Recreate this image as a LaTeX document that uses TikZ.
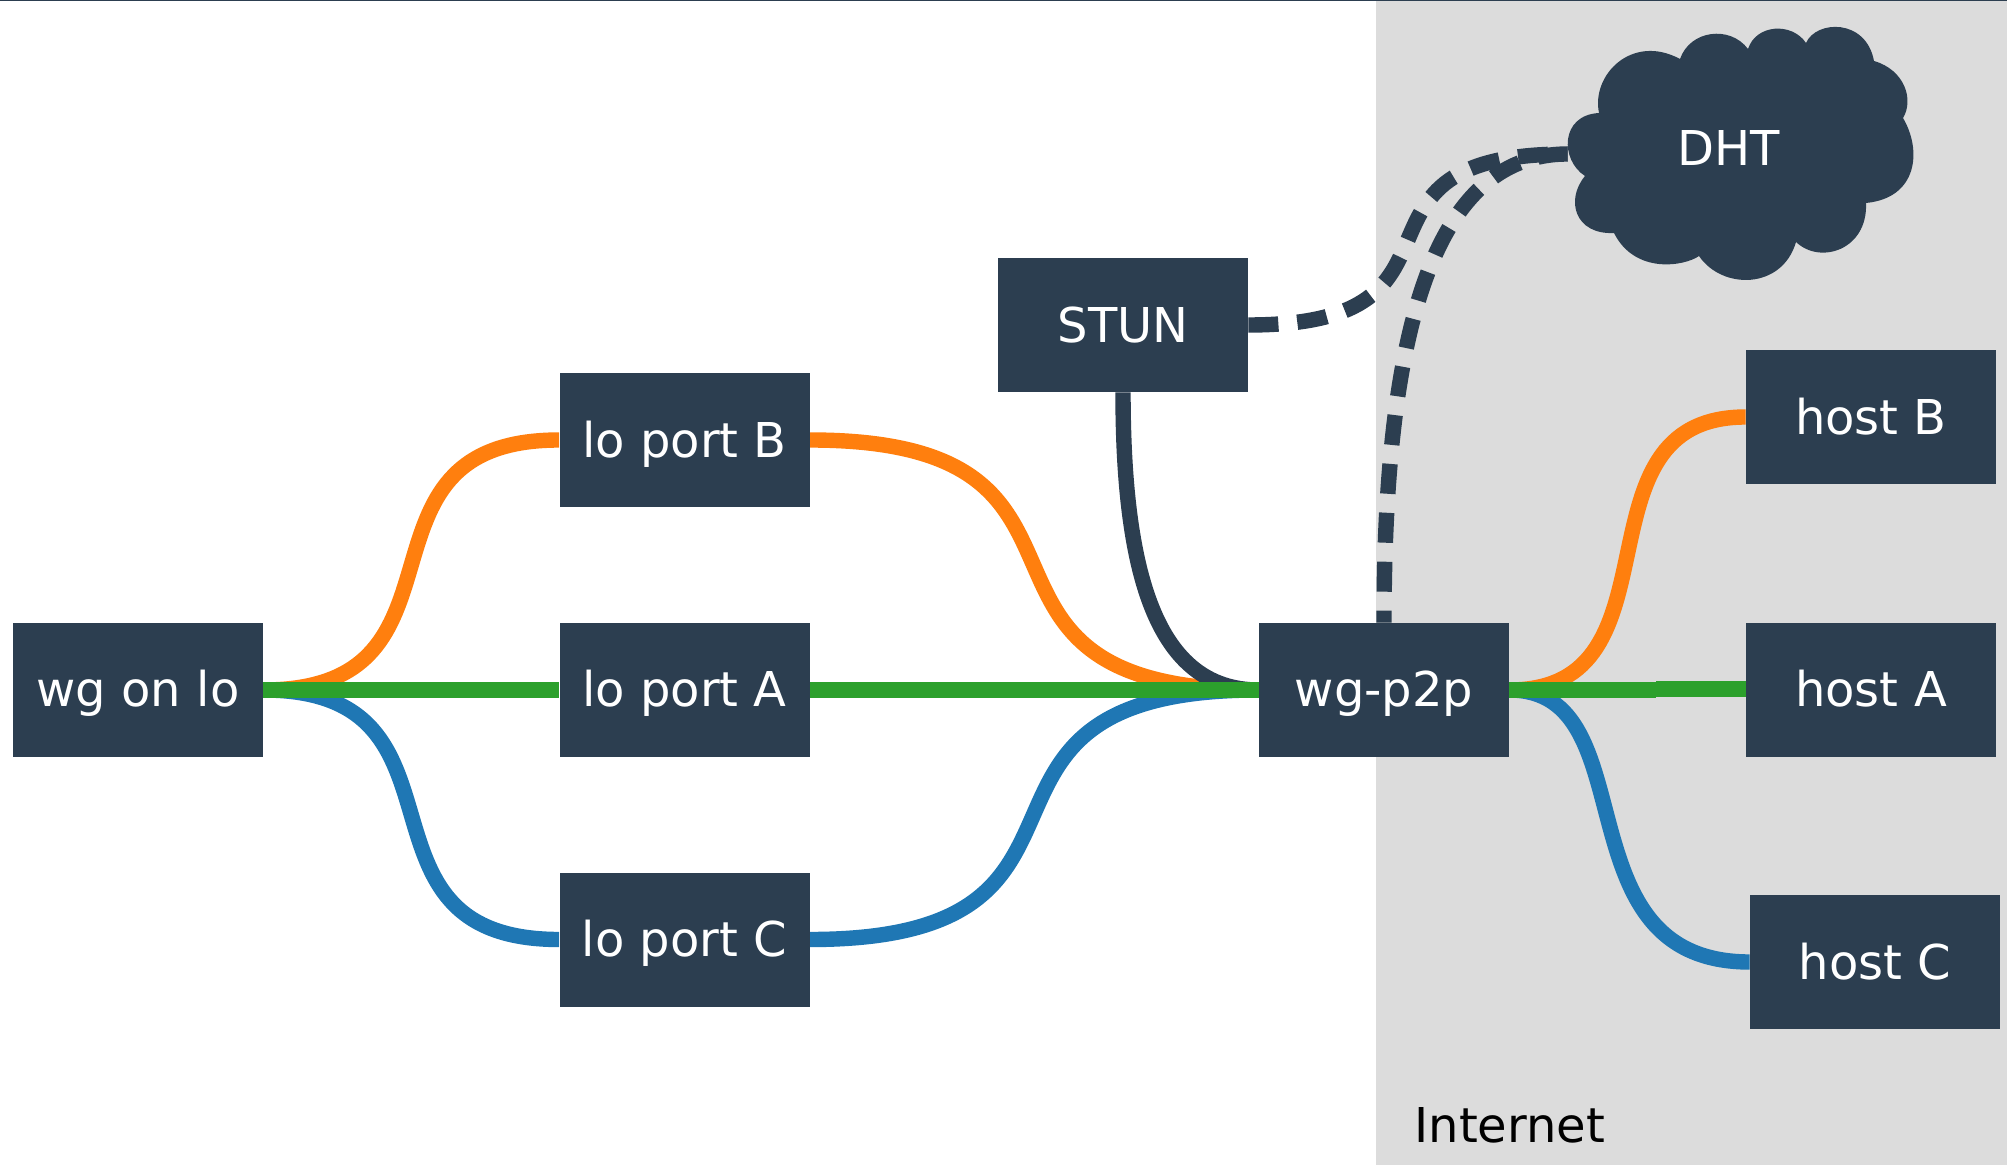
\documentclass[tikz,border=0pt]{standalone}
\usepackage{fontspec}
\setmainfont{DejaVu Sans}
\usetikzlibrary{backgrounds, calc}
\definecolor{boxdark}{HTML}{2C3E50}
\definecolor{netgray}{HTML}{DCDCDC}
\definecolor{lineorange}{HTML}{FF7F0E}
\definecolor{linegreen}{HTML}{2CA02C}
\definecolor{lineblue}{HTML}{1F77B4}
\tikzset{
	labeltext/.style={font=\fontsize{24}{28}\selectfont},
	box/.style={labeltext, fill=boxdark, text=white, minimum width=125pt, minimum height=67pt, inner sep=0pt, text height=17.2pt, text depth=0pt},
	midbox/.style={box, text height=16pt},
	link/.style={line width=7.7pt},
	dashlink/.style={link, boxdark, dash pattern=on 15pt off 9.5pt},
}
\begin{document}
\begin{tikzpicture}[x=0.5pt,y=-0.5pt]
		\useasboundingbox (0,0) rectangle (2007,1165);
		%
		%
		\node[midbox] (wglo) at (138,690) {wg on lo};
		\node[box] (portb) at (684.5,440) {lo port B};
		\node[midbox] (porta) at (684.5,690) {lo port A};
		\node[box] (portc) at (684.5,939.5) {lo port C};
		\node[box] (stun) at (1123,325) {STUN};
		\node[midbox] (wgp) at (1384,690) {wg-p2p};
		\node[box] (hostb) at (1871,417) {host B};
		\node[midbox] (hosta) at (1871,690) {host A};
		\node[box] (hostc) at (1875,962) {host C};
		\coordinate (greenstep) at (1656,690);
		\node[labeltext, anchor=base west, inner sep=0pt] (internet) at (1414,1142) {Internet};
		%
		%
		\fill[boxdark] (1599,113) .. controls (1591,75) and (1632,33) .. (1680,59)
		.. controls (1690,30) and (1730,25) .. (1748,49)
		.. controls (1756,24) and (1792,22) .. (1806,43)
		.. controls (1816,20) and (1866,18) .. (1874,61)
		.. controls (1905,70) and (1914,100) .. (1903,118)
		.. controls (1922,150) and (1918,198) .. (1866,203)
		.. controls (1868,250) and (1820,265) .. (1796,242)
		.. controls (1782,290) and (1722,290) .. (1699,256)
		.. controls (1685,266) and (1635,275) .. (1614,233)
		.. controls (1575,235) and (1565,200) .. (1585,176)
		.. controls (1560,160) and (1560,115) .. (1599,113) -- cycle;
		\node[labeltext, text=white, minimum width=161pt, inner sep=0pt, text height=16pt, text depth=4pt] (dht) at (1729,154) {DHT};
		%
		%
		\begin{pgfonlayer}{background}
		\fill[netgray] (1376,1.5) rectangle (2007,1165);
		\fill[boxdark] (0,0) rectangle (2007,1.5);
		\draw[link, lineorange] (wglo.east) .. controls +(222,0) and +(-222,0) .. (portb.west);
		\draw[link, lineorange] (portb.east) .. controls +(338,0) and +(-340,0) .. (wgp.west);
		\draw[link, lineorange] (wgp.east) .. controls +(178,0) and +(-178,0) .. (hostb.west);
		\draw[link, lineblue] (wglo.east) .. controls +(222,0) and +(-222,0) .. (portc.west);
		\draw[link, lineblue] (portc.east) .. controls +(338,0) and +(-340,0) .. (wgp.west);
		\draw[link, lineblue] (wgp.east) .. controls +(140,0) and +(-193,0) .. (hostc.west);
		\draw[link, boxdark] (stun.south) .. controls +(0,179) and +(-103,0) .. (wgp.west);
		\draw[dashlink] (stun.east) .. controls +(246,0) and +(-246,0) .. (dht.west);
		\draw[dashlink] (dht.west) .. controls +(-138,0) and +(0,-281) .. (wgp.north);
		\draw[link, linegreen] (wglo.east) -- (porta.west);
		\draw[link, linegreen] (porta.east) -- (wgp.west);
		\draw[link, linegreen] (wgp.east) -- (greenstep);
		\draw[link, linegreen] ($(greenstep)+(0,-1)$) -- ($(hosta.west)+(0,-1)$);
		\end{pgfonlayer}
	\end{tikzpicture}
\end{document}
